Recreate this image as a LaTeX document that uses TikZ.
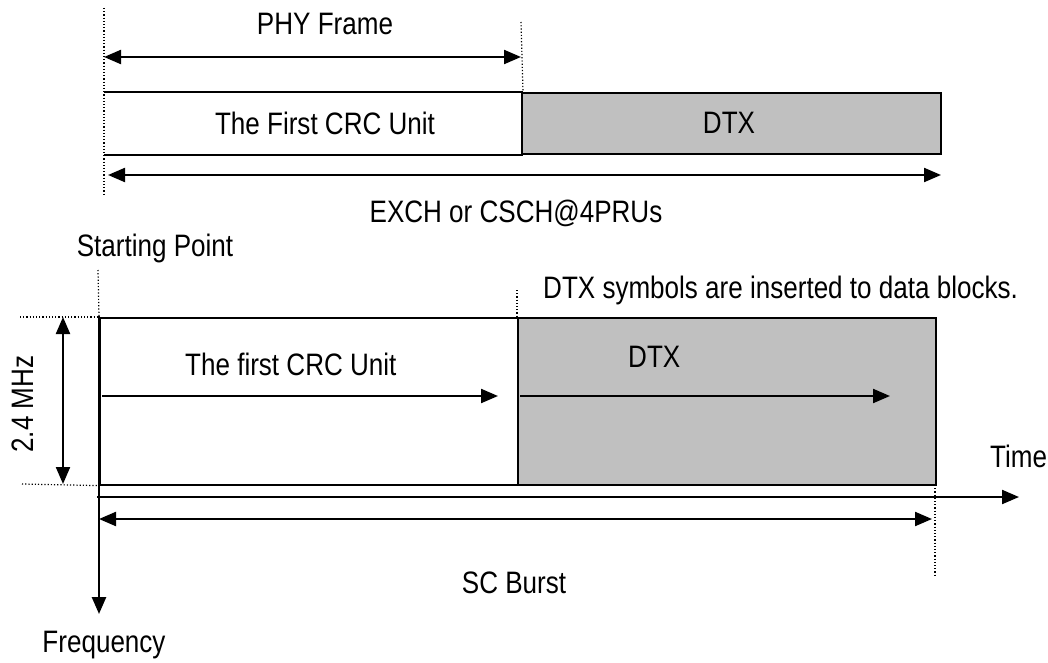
\documentclass[tikz,border=0pt]{standalone}
\usepackage{fontspec}
\setmainfont{Liberation Sans}[FakeStretch=0.84]
\usetikzlibrary{arrows.meta}
\definecolor{boxgray}{HTML}{C0C0C0}
\begin{document}
\begin{tikzpicture}[x=1pt,y=-1pt,
  lbl/.style={font=\fontsize{31}{36}\selectfont, inner sep=0pt},
  blk/.style={draw=black, line width=2pt, inner sep=0pt, anchor=north west},
  wht/.style={blk, fill=white},
  gry/.style={blk, fill=boxgray},
  tip/.tip={Triangle[length=17pt,width=14pt]},
  dimarrow/.style={line width=2.2pt, tip-tip},
  onearrow/.style={line width=2.2pt, -tip},
  dots/.style={line width=1.2pt, dotted}
]
\useasboundingbox (0,0) rectangle (1048,663);

% ---------- top part ----------
\node[wht, draw=none, minimum width=417pt, minimum height=61pt] (crcA) at (104,92) {};
\draw[line width=2pt] (crcA.north west) -- (crcA.north east);
\draw[line width=2pt] (crcA.south west) -- (crcA.south east);
\node[gry, minimum width=419pt, minimum height=61pt] (dtxA) at (521,92) {};
\node[lbl, anchor=base] (crcAt) at (325,135) {The First CRC Unit};
\node[lbl, anchor=base] (dtxAt) at (729,134) {DTX};

\coordinate (vA1) at (104,8);
\coordinate (vA2) at (104,195);
\draw[dots] (vA1) -- (vA2);
\coordinate (vB1) at (521,22);
\draw[dots] (vB1) -- (crcA.north east);

\coordinate (phyL) at (104,57);
\coordinate (phyR) at (521,57);
\draw[dimarrow] (phyL) -- (phyR);
\node[lbl, anchor=base] (phy) at (325,35) {PHY Frame};

\coordinate (exL) at (108,175);
\coordinate (exR) at (941,175);
\draw[dimarrow] (exL) -- (exR);
\node[lbl, anchor=base] (exch) at (516,222) {EXCH or CSCH@4PRUs};

% ---------- bottom part ----------
\node[lbl, anchor=base] (start) at (155,256) {Starting Point};
\node[lbl, anchor=base west] (note) at (543,298) {DTX symbols are inserted to data blocks.};

\node[wht, line width=1.6pt, minimum width=418pt, minimum height=167pt] (crcB) at (99,317) {};
\node[gry, line width=1.6pt, minimum width=418pt, minimum height=167pt] (dtxB) at (517,317) {};
\node[lbl, anchor=base west] (crcBt) at (185,375) {The first CRC Unit};
\node[lbl, anchor=base west] (dtxBt) at (628,367) {DTX};

\draw[dots] (98,270) -- (crcB.north west);
\draw[dots] (517,290) -- (dtxB.north west);
\draw[dots] (935,485) -- (935,577);

% bandwidth markers
\coordinate (bwT) at (20,317);
\coordinate (bwB) at (22,484);
\draw[dots] (bwT) -- (crcB.north west);
\draw[dots] (bwB) -- (crcB.south west);
\coordinate (bwA1) at (63,317);
\coordinate (bwA2) at (63,484);
\draw[dimarrow] (bwA1) -- (bwA2);
\node[lbl, rotate=90, anchor=base] (mhz) at (33,404) {2.4 MHz};

% internal arrows
\coordinate (a1) at (102,396);
\coordinate (a2) at (498,396);
\draw[onearrow] (a1) -- (a2);
\coordinate (b1) at (520,396);
\coordinate (b2) at (890,396);
\draw[onearrow] (b1) -- (b2);

% axes
\coordinate (tO) at (97,497);
\coordinate (tE) at (1019,497);
\draw[onearrow] (tO) -- (tE);
\node[lbl, anchor=base west] (time) at (990,467) {Time};

\coordinate (fO) at (99,316);
\coordinate (fE) at (99,614);
\draw[onearrow, line width=2.6pt] (fO) -- (fE);
\node[lbl, anchor=base] (freq) at (104,652) {Frequency};

% SC burst
\coordinate (scL) at (99,519);
\coordinate (scR) at (932,519);
\draw[dimarrow] (scL) -- (scR);
\node[lbl, anchor=base] (sc) at (514,593) {SC Burst};
\end{tikzpicture}
\end{document}
